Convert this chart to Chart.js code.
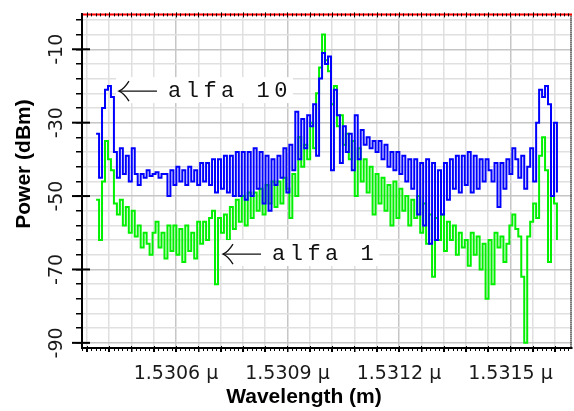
<!DOCTYPE html>
<html>
<head>
<meta charset="utf-8">
<script src="https://cdn.jsdelivr.net/npm/chart.js@4/dist/chart.umd.min.js"></script>
<style>
  html, body { margin: 0; padding: 0; background: #fff; overflow: hidden; }
  #wrap { position: relative; width: 574px; height: 411px; }
</style>
</head>
<body>
<div id="wrap"><canvas id="spectrum" width="574" height="411"></canvas></div>
<script>
// Optical spectrum, sampled on a regular wavelength grid (µm)
const wavelengthStart = 1.530385;
const wavelengthStep = 0.000008;

// Power in dBm, alfa = 10
const alfa10 = [
  -33, -45, -26, -21, -20, -23, -38, -45, -37, -44,
  -39, -46, -37, -44, -47, -44, -45, -43, -44.5, -44,
  -43.5, -45, -44, -44, -50, -43, -47, -42, -46, -43,
  -47, -42, -46, -43, -47, -41, -46, -41, -47, -40,
  -49, -40, -48, -39, -49, -39, -50, -38, -50, -38,
  -51, -38, -50, -37, -48, -38, -52, -39, -54, -40,
  -47, -39, -45, -37, -49, -36, -43, -27, -40, -29,
  -37, -28, -31, -25, -39, -18, -11, -14, -12, -43,
  -21, -28, -41, -31, -38, -33, -43, -28, -40, -32,
  -36, -34, -37, -35, -38, -35, -40, -36, -42, -38,
  -43, -38, -44, -39, -46, -40, -48, -40, -55, -41,
  -58, -40, -63, -41, -62, -43, -55, -41, -51, -40,
  -48, -39, -49, -39, -47, -38, -49, -39, -48, -40,
  -46, -40, -43, -46, -41, -53, -41, -48, -40, -44,
  -37, -40, -45, -39, -48, -42, -37, -46, -30, -21,
  -23, -20, -25, -50, -30, -49
];

// Power in dBm, alfa = 1
const alfa1 = [
  -51, -62, -46, -35, -40, -43, -52, -55, -51, -58,
  -53, -60, -54, -61, -58, -64, -60, -63, -66, -60,
  -57, -64, -60, -67, -58, -65, -58, -66, -59, -68,
  -58, -65, -60, -67, -57, -63, -57, -62, -56, -54,
  -74, -56, -60, -55, -62, -53, -59, -51, -57, -50,
  -58, -49, -56, -49, -54, -48, -55, -47, -52, -46,
  -53, -46, -52, -45, -48, -56, -44, -50, -34, -42,
  -36, -40, -30, -37, -22, -15, -6, -13, -16, -25,
  -20, -31, -28, -36, -33, -40, -35, -50, -37, -46,
  -40, -49, -42, -55, -44, -52, -45, -54, -47, -58,
  -46, -56, -48, -54, -50, -58, -51, -56, -50, -60,
  -52, -63, -55, -72, -56, -62, -55, -65, -57, -62,
  -58, -66, -60, -64, -62, -69, -60, -66, -61, -70,
  -63, -78, -62, -74, -60, -64, -61, -68, -63, -58,
  -55, -59, -61, -72, -90, -61, -57, -52, -56, -39,
  -34, -43, -68, -50, -52, -62
];

// Axes
const xRange = [1.5303471, 1.5316655];
const xLabelTicks = [1.5306, 1.5309, 1.5312, 1.5315];
const xGridStep = 0.00006;
const yRange = [-91.4, -0.5];
const yLabelTicks = [-90, -70, -50, -30, -10];
const yGridStep = 4;

// Curve labels: arrow tip in data units, then text
const notes = [
  { text: 'alfa 10', x: 1.5304466, y: -21.4 },
  { text: 'alfa 1',  x: 1.5307265, y: -65.8 }
];

const toPoints = vals => vals.map((v, i) => ({ x: wavelengthStart + i * wavelengthStep, y: v }));
const isXLabel = v => xLabelTicks.some(t => Math.abs(t - v) < 1e-7);
const isYLabel = v => yLabelTicks.includes(v);

const decor = {
  id: 'decor',
  beforeDraw(chart) {
    const ctx = chart.ctx;
    ctx.save();
    ctx.fillStyle = '#fff';
    ctx.fillRect(0, 0, chart.width, chart.height);
    ctx.restore();
  },
  afterDatasetsDraw(chart) {
    const { ctx, scales: { x, y } } = chart;
    ctx.save();
    notes.forEach(n => {
      const tx = x.getPixelForValue(n.x);
      const ty = y.getPixelForValue(n.y);
      ctx.font = '22px "Liberation Mono", "DejaVu Sans Mono", monospace';
      ctx.letterSpacing = '4.5px';
      const w = ctx.measureText(n.text).width;
      ctx.fillStyle = '#fff';
      ctx.fillRect(tx - 3, ty - 14, 49 + w + 4, 26);
      // arrow
      ctx.strokeStyle = '#111';
      ctx.lineWidth = 1.3;
      ctx.beginPath();
      ctx.moveTo(tx, ty);
      ctx.lineTo(tx + 38, ty);
      ctx.stroke();
      ctx.beginPath();
      ctx.moveTo(tx + 10, ty - 10);
      ctx.quadraticCurveTo(tx + 5, ty - 2, tx, ty);
      ctx.quadraticCurveTo(tx + 5, ty + 2, tx + 10, ty + 10);
      ctx.stroke();
      // text
      ctx.fillStyle = '#111';
      ctx.textBaseline = 'alphabetic';
      ctx.textAlign = 'left';
      ctx.fillText(n.text, tx + 49, ty + 6);
      ctx.letterSpacing = '0px';
    });
    ctx.restore();
  },
  afterDraw(chart) {
    const { ctx, chartArea: a, scales: { x, y } } = chart;
    ctx.save();
    // right frame edge, dotted
    ctx.strokeStyle = '#222';
    ctx.lineWidth = 2;
    ctx.setLineDash([1, 1]);
    ctx.beginPath();
    ctx.moveTo(a.right - 1, a.top);
    ctx.lineTo(a.right - 1, a.bottom);
    ctx.stroke();
    ctx.setLineDash([]);
    // top edge in red
    ctx.strokeStyle = '#ff0000';
    ctx.lineWidth = 2;
    ctx.beginPath();
    ctx.moveTo(a.left, a.top);
    ctx.lineTo(a.right, a.top);
    ctx.stroke();
    // fine ticks along top and bottom edges
    ctx.strokeStyle = '#000';
    ctx.lineWidth = 1;
    const fine = xGridStep / 5;
    for (let k = Math.ceil(xRange[0] / fine); k * fine <= xRange[1]; k++) {
      const px = Math.round(x.getPixelForValue(k * fine)) + 0.5;
      const major = k % 5 === 0;
      ctx.beginPath();
      ctx.moveTo(px, a.bottom - (major ? 2 : 1));
      ctx.lineTo(px, a.bottom + (major ? 4 : 3));
      ctx.moveTo(px, a.top - (major ? 2 : 1));
      ctx.lineTo(px, a.top + (major ? 3 : 2));
      ctx.stroke();
    }
    // long marks on the labelled power values
    ctx.lineWidth = 2;
    yLabelTicks.forEach(v => {
      const py = y.getPixelForValue(v);
      ctx.beginPath();
      ctx.moveTo(a.left - 10, py);
      ctx.lineTo(a.left + 8, py);
      ctx.stroke();
    });
    // axis titles
    ctx.fillStyle = '#000';
    ctx.font = 'bold 21px "Liberation Sans", Arial, sans-serif';
    ctx.textAlign = 'center';
    ctx.textBaseline = 'alphabetic';
    ctx.fillText('Wavelength (m)', 304, 403);
    ctx.translate(30, 164);
    ctx.rotate(-Math.PI / 2);
    ctx.fillText('Power (dBm)', 0, 0);
    ctx.restore();
  }
};

new Chart(document.getElementById('spectrum'), {
  type: 'line',
  data: {
    datasets: [
      {
        label: 'alfa 10',
        data: toPoints(alfa10),
        borderColor: '#0000ff',
        borderWidth: 2,
        pointRadius: 0,
        stepped: true,
        order: 0
      },
      {
        label: 'alfa 1',
        data: toPoints(alfa1),
        borderColor: '#00f000',
        borderWidth: 2,
        pointRadius: 0,
        stepped: true,
        order: 1
      }
    ]
  },
  options: {
    responsive: false,
    animation: false,
    devicePixelRatio: 1,
    layout: { padding: { top: 14, right: 2, left: 0, bottom: 0 } },
    plugins: { legend: { display: false }, tooltip: { enabled: false } },
    scales: {
      x: {
        type: 'linear',
        min: xRange[0],
        max: xRange[1],
        afterBuildTicks(scale) {
          const t = [];
          for (let k = Math.ceil(xRange[0] / xGridStep - 1e-6); k * xGridStep <= xRange[1]; k++) {
            t.push({ value: +(k * xGridStep).toFixed(6) });
          }
          scale.ticks = t;
        },
        afterFit(scale) { scale.height = 63; },
        grid: {
          color: c => (c.tick && isXLabel(c.tick.value)) ? '#c6c6c6' : '#e0e0e0',
          lineWidth: 1.5,
          tickColor: '#000',
          tickLength: 4
        },
        border: { color: '#000', width: 2 },
        ticks: {
          autoSkip: false,
          minRotation: 0,
          maxRotation: 0,
          padding: 11,
          color: '#1a1a1a',
          font: { family: '"DejaVu Sans", sans-serif', size: 19 },
          callback: v => isXLabel(v) ? v.toFixed(4) + ' μ' : ''
        }
      },
      y: {
        type: 'linear',
        min: yRange[0],
        max: yRange[1],
        afterBuildTicks(scale) {
          const t = [];
          for (let v = yLabelTicks[0]; v <= yRange[1]; v += yGridStep) t.push({ value: v });
          scale.ticks = t;
        },
        afterFit(scale) { scale.width = 82; },
        grid: {
          color: c => (c.tick && isYLabel(c.tick.value)) ? '#c6c6c6' : '#e0e0e0',
          lineWidth: 1.5,
          tickColor: '#000',
          tickLength: 6
        },
        border: { color: '#000', width: 2 },
        ticks: {
          autoSkip: false,
          minRotation: 90,
          maxRotation: 90,
          crossAlign: 'center',
          padding: 3,
          color: '#1a1a1a',
          font: { family: '"DejaVu Sans", sans-serif', size: 19 },
          callback: v => isYLabel(v) ? String(v) : ''
        }
      }
    }
  },
  plugins: [decor]
});
</script>
</body>
</html>
